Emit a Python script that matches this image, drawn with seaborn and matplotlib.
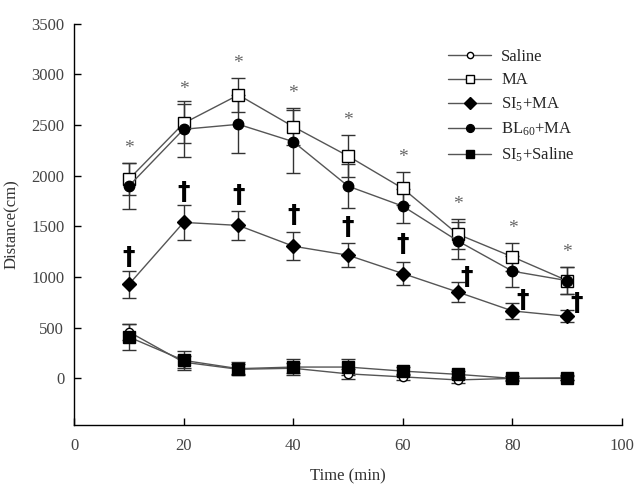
import numpy as np
import pandas as pd
import seaborn as sns
import matplotlib
matplotlib.use("Agg")
import matplotlib.pyplot as plt

sns.set_style("white")
plt.rcParams['font.family'] = ['Liberation Serif', 'DejaVu Serif']
plt.rcParams['mathtext.fontset'] = 'custom'
plt.rcParams['mathtext.rm'] = 'Liberation Serif'

# data
time = [10, 20, 30, 40, 50, 60, 70, 80, 90]
saline = [460, 160, 90, 100, 45, 15, -15, 0, 0]
saline_err = [80, 60, 50, 50, 50, 30, 30, 20, 20]
ma = [1965, 2518, 2798, 2485, 2195, 1875, 1424, 1200, 965]
ma_err = [158, 190, 165, 180, 208, 165, 145, 138, 130]
si5_ma = [927, 1540, 1510, 1305, 1216, 1035, 853, 666, 613]
si5_ma_err = [135, 170, 145, 140, 118, 110, 100, 75, 60]
bl60_ma = [1898, 2459, 2508, 2337, 1898, 1700, 1358, 1058, 965]
bl60_ma_err = [227, 277, 286, 313, 220, 170, 184, 155, 130]
si5_saline = [409, 178, 96, 112, 112, 72, 40, 0, 5]
si5_saline_err = [130, 95, 65, 80, 75, 40, 35, 25, 25]

# significance marks (* vs saline, dagger vs MA)
star_x = [10, 20, 30, 40, 50, 60, 70, 80, 90]
dagger_x = [10, 20, 30, 40, 50, 60, 71.7, 81.8, 91.8]
dagger_gap = [140, 130, 155, 167, 162, 180, 50, 30, 70]

labels = ['Saline', 'MA', r'$\mathregular{SI_5}$+MA', r'$\mathregular{BL_{60}}$+MA', r'$\mathregular{SI_5}$+Saline']
series = [saline, ma, si5_ma, bl60_ma, si5_saline]
errors = [saline_err, ma_err, si5_ma_err, bl60_ma_err, si5_saline_err]
markers = ['o', 's', 'D', 'o', 's']
msizes = [6, 8, 7.5, 7.5, 8]
faces = ['white', 'white', 'black', 'black', 'black']

fig = plt.figure(figsize=(6.38, 4.86), dpi=100)
ax = fig.add_axes([0.116, 0.1255, 0.859, 0.8255])

order = [0, 4, 1, 3, 2]
for i in order:
    ax.errorbar(time, series[i], yerr=errors[i], fmt='none', ecolor='#333333',
                elinewidth=1, capsize=5, capthick=1, zorder=2)

for i in range(5):
    df = pd.DataFrame({'Time': time, 'Distance': series[i]})
    sns.lineplot(data=df, x='Time', y='Distance', ax=ax, color='#555555', lw=1,
                 marker=markers[i], markersize=msizes[i], markerfacecolor=faces[i],
                 markeredgecolor='black', markeredgewidth=1, label=labels[i], zorder=3 + i)

for j, x in enumerate(star_x):
    ax.text(x, ma[j] + ma_err[j] + 60, '*', ha='center', va='bottom', fontsize=14, color='#666666')

for j, x in enumerate(dagger_x):
    ax.text(x, si5_ma[j] + si5_ma_err[j] + dagger_gap[j], '\u2020', ha='center', va='center',
            fontsize=18, fontweight='bold', color='black', family='DejaVu Sans')

ax.set_xlim(0, 100)
ax.set_ylim(-460, 3500)
ax.set_xticks(np.arange(0, 101, 20))
ax.set_yticks(np.arange(0, 3501, 500))
ax.spines['top'].set_visible(False)
ax.spines['right'].set_visible(False)
for s in ['left', 'bottom']:
    ax.spines[s].set_color('black')
    ax.spines[s].set_linewidth(1)
ax.tick_params(axis='both', direction='in', length=5, width=1, labelsize=12,
               left=True, bottom=True, colors='black', labelcolor='#444444')
ax.tick_params(axis='x', pad=9)
ax.tick_params(axis='y', pad=7)
ax.set_xlabel('Time (min)', fontsize=12, color='#333333', labelpad=11)
ax.set_ylabel('Distance(cm)', fontsize=12, color='#333333', labelpad=8)

ax.legend(loc='upper left', bbox_to_anchor=(0.655, 0.975), frameon=False, fontsize=12,
          handlelength=2.6, labelspacing=0.45, handletextpad=0.6, markerscale=0.75)

plt.savefig('out.png', dpi=100)
